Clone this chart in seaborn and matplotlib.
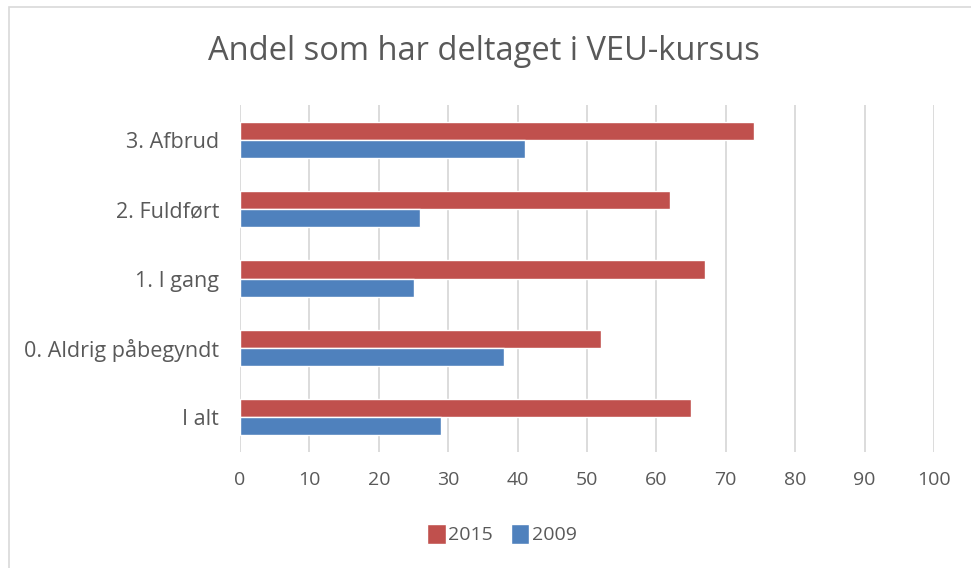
import pandas as pd
import seaborn as sns
import matplotlib.pyplot as plt
from matplotlib.patches import Rectangle

# data
kategorier = ['3. Afbrud', '2. Fuldført', '1. I gang', '0. Aldrig påbegyndt', 'I alt']
aar = ['2015', '2009']
andel_2015 = [74, 62, 67, 52, 65]
andel_2009 = [41, 26, 25, 38, 29]
x_ticks = [0, 10, 20, 30, 40, 50, 60, 70, 80, 90, 100]

df = pd.DataFrame({
    'kategori': kategorier * 2,
    'aar': [aar[0]] * len(kategorier) + [aar[1]] * len(kategorier),
    'andel': andel_2015 + andel_2009,
})

sns.set_theme(style='white')
plt.rcParams['font.family'] = ['Open Sans', 'DejaVu Sans']
tekst = '#595959'

fig = plt.figure(figsize=(9.71, 5.68), dpi=100)
ax = fig.add_axes([240 / 971, 1 - 452 / 568, 694 / 971, 347 / 568])

sns.barplot(data=df, y='kategori', x='andel', hue='aar', hue_order=aar,
            order=kategorier, palette=['#C0504D', '#4F81BD'], width=0.52,
            orient='h', saturation=1, ax=ax, legend=True)

ax.set_xlim(0, 100)
ax.set_xticks(x_ticks)
ax.set_xlabel('')
ax.set_ylabel('')
ax.grid(axis='x', color='#D9D9D9', linewidth=1.3)
ax.grid(axis='y', visible=False)
ax.set_axisbelow(True)
for s in ax.spines.values():
    s.set_visible(False)
ax.tick_params(axis='y', length=0, labelsize=15.5, colors=tekst, pad=15)
ax.tick_params(axis='x', length=0, labelsize=14, colors=tekst, pad=14)

ax.legend(loc='center', bbox_to_anchor=(502 / 971, 1 - 534 / 568),
          bbox_transform=fig.transFigure, ncol=2, frameon=False,
          handlelength=0.95, handleheight=1.2, handletextpad=0.15,
          columnspacing=0.9, fontsize=14, labelcolor=tekst)

fig.text(484 / 971, 1 - 51 / 568, 'Andel som har deltaget i VEU-kursus',
         ha='center', va='center', fontsize=23.5, color=tekst)

# chart-area border
fig.patches.append(Rectangle((9 / 971, -0.1), 1.2, 1 - 7 / 568 + 0.1,
                             transform=fig.transFigure, fill=False,
                             edgecolor='#D9D9D9', linewidth=1.2))

fig.savefig('out.png', dpi=100)
